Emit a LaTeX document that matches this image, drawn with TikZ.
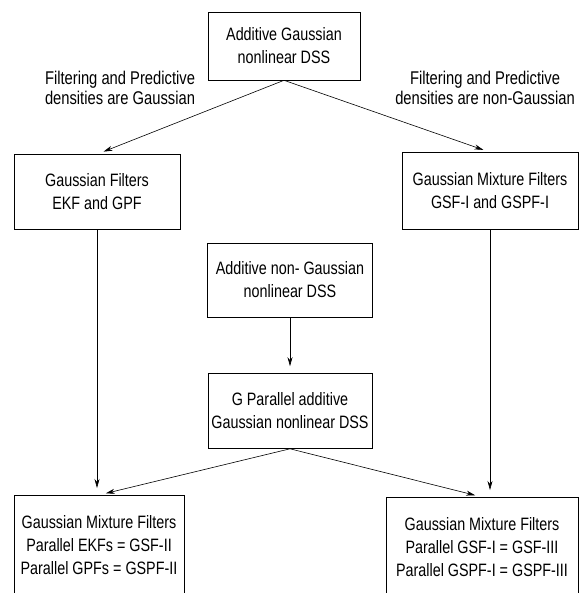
\documentclass[tikz,border=0pt]{standalone}
\usepackage{fontspec}
\setmainfont{Liberation Sans}[FakeStretch=0.8]
\usetikzlibrary{arrows.meta,positioning}

\begin{document}
\begin{tikzpicture}[x=1bp,y=-1bp,
  box/.style={draw, line width=0.6bp, align=center, inner sep=0pt, font=\fontsize{18}{23}\selectfont},
  lbl/.style={align=center, font=\fontsize{18.5}{20}\selectfont},
  arr/.style={line width=0.6bp, -{Stealth[length=9bp,width=5bp]}, shorten >=7bp}]
\useasboundingbox (0,0) rectangle (584,593);
\clip (0,0) rectangle (584,593);
\node[box, minimum width=152bp, minimum height=68bp] (agd) at (284,46) {Additive Gaussian\\nonlinear DSS};
\node[box, minimum width=166bp, minimum height=75bp] (gf) at (97,192) {Gaussian Filters\\EKF and GPF};
\node[box, minimum width=176bp, minimum height=77bp] (gmf) at (490,191) {Gaussian Mixture Filters\\GSF-I and GSPF-I};
\node[box, minimum width=165bp, minimum height=74bp] (angd) at (290,280) {Additive non- Gaussian\\nonlinear DSS};
\node[box, minimum width=164bp, minimum height=75bp] (gpd) at (290,411) {G Parallel additive\\Gaussian nonlinear DSS};
\node[box, anchor=north, minimum width=170bp, minimum height=100bp] (gmfii) at (99,495) {Gaussian Mixture Filters\\Parallel EKFs = GSF-II\\Parallel GPFs = GSPF-II};
\node[box, anchor=north, minimum width=192bp, minimum height=100bp] (gmfiii) at (482,497) {Gaussian Mixture Filters\\Parallel GSF-I = GSF-III\\Parallel GSPF-I = GSPF-III};
\node[lbl] (lg) at (120,88) {Filtering and Predictive\\densities are Gaussian};
\node[lbl] (lng) at (485,88) {Filtering and Predictive\\densities are non-Gaussian};
% arrows
\draw[arr] (agd.south) -- (gf.north);
\draw[arr] (agd.south) -- (gmf.north);
\draw[arr] (gf.south) -- (gf.south |- gmfii.north);
\draw[arr] (gmf.south) -- (gmf.south |- gmfiii.north);
\draw[arr] (angd.south) -- (gpd.north);
\draw[arr] (gpd.south) -- (gmfii.north);
\draw[arr] (gpd.south) -- (gmfiii.north);
\end{tikzpicture}
\end{document}
